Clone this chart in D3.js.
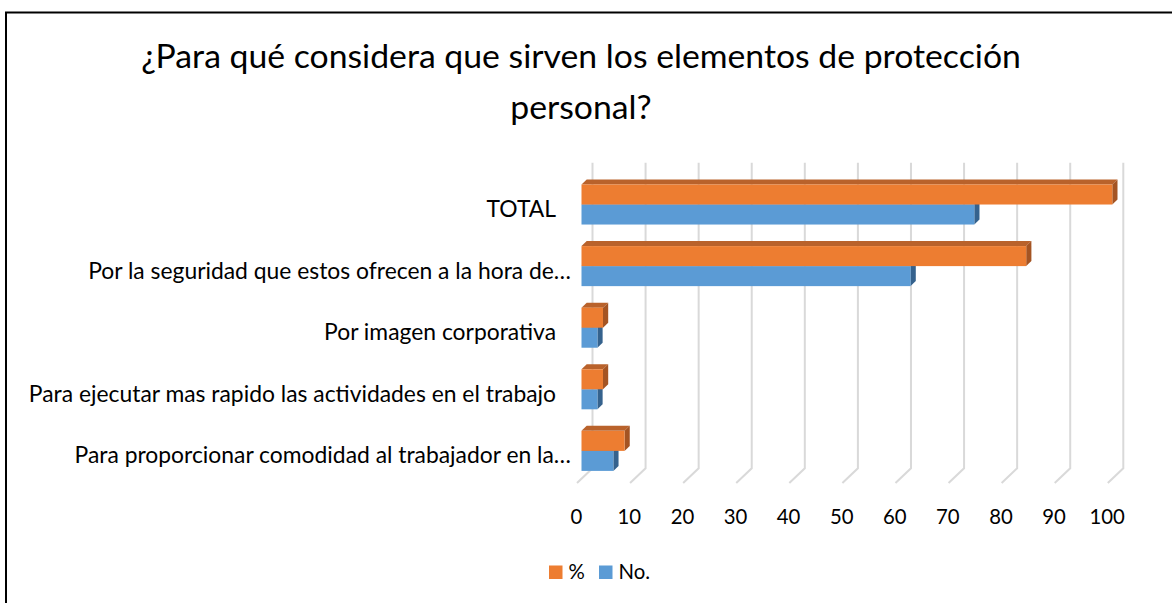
<!DOCTYPE html>
<html><head><meta charset="utf-8">
<script src="https://cdn.jsdelivr.net/npm/d3@7"></script>
<style>
body{margin:0;background:#fff}
svg{display:block}
text{font-family:Lato,"Open Sans",sans-serif;fill:#000}
</style>
</head><body>
<svg id="c" width="1172" height="603"></svg>
<script>
const titleLines = ["¿Para qué considera que sirven los elementos de protección", "personal?"];
const categories = [
  "TOTAL",
  "Por la seguridad que estos ofrecen a la hora de…",
  "Por imagen corporativa",
  "Para ejecutar mas rapido las actividades en el trabajo",
  "Para proporcionar comodidad al trabajador en la…"
];
const seriesNames = ["%", "No."];
const pctValues = [100, 83.78, 4.05, 4.05, 8.11];
const noValues = [74, 62, 3, 3, 6];
const tickValues = [0, 10, 20, 30, 40, 50, 60, 70, 80, 90, 100];

const svg = d3.select("#c");
const W = 1172, H = 603;

function measure(str) {
  const t = svg.append("text").attr("font-size", 100).text(str);
  const w = t.node().getComputedTextLength();
  t.remove();
  return w;
}
function fitSize(str, target) { return 100 * target / measure(str); }

// frame
svg.append("path").attr("d", `M6,${H + 2}V12.5H${W + 2}`).attr("fill", "none")
  .attr("stroke", "#000").attr("stroke-width", 2);

// title
const titleSize = fitSize(titleLines[0], 880);
svg.selectAll("text.title").data(titleLines).join("text").attr("class", "title")
  .attr("x", 581).attr("y", (d, i) => 68 + i * 50.5)
  .attr("text-anchor", "middle").attr("font-size", titleSize).text(d => d);

// scales
const x = d3.scaleLinear().domain([0, 100]).range([581.5, 1112.3]);
const y = d3.scaleBand().domain(categories).range([153.7, 501.7]).paddingInner(0.35).paddingOuter(0.5);
const ys = d3.scaleBand().domain(seriesNames).range([0, y.bandwidth()]);

// 3D geometry
const wallDx = 11, wallTop = 162.7, wallBottom = 468.3, floorDx = -15.5, floorDy = 14.7;
const bdx = 5.2, bdy = -5;

// gridlines (back wall + floor)
svg.append("g").selectAll("path").data(tickValues).join("path")
  .attr("d", v => {
    const gx = x(v) + wallDx;
    return `M${gx},${wallTop}V${wallBottom}L${gx + floorDx},${wallBottom + floorDy}`;
  })
  .attr("fill", "none").attr("stroke", "#d9d9d9").attr("stroke-width", 2);

// bars
const colors = {
  "%": {front: "#ED7D31", top: "#B9622B", side: "#A45423"},
  "No.": {front: "#5B9BD5", top: "#4A80B3", side: "#35628D"}
};
const rows = categories.map((c, i) => ({c, values: {"%": pctValues[i], "No.": noValues[i]}}));
const gBars = svg.append("g");
rows.forEach(r => {
  ["No.", "%"].forEach(s => {
    const v = r.values[s];
    const x0 = x(0), x1 = x(v);
    const y0 = y(r.c) + ys(s), h = ys.bandwidth();
    const col = colors[s];
    const g = gBars.append("g");
    g.append("path").attr("d", `M${x0},${y0}L${x0 + bdx},${y0 + bdy}L${x1 + bdx},${y0 + bdy}L${x1},${y0}Z`)
      .attr("fill", col.top);
    g.append("path").attr("d", `M${x1},${y0}L${x1 + bdx},${y0 + bdy}L${x1 + bdx},${y0 + h + bdy}L${x1},${y0 + h}Z`)
      .attr("fill", col.side);
    g.append("rect").attr("x", x0).attr("y", y0).attr("width", x1 - x0).attr("height", h)
      .attr("fill", col.front);
  });
});

// category labels: one font size fitted to the total width of all labels
const catTotal = categories.reduce((a, c) => a + measure(c), 0);
const catSize = 100 * 1809 / catTotal;
svg.append("g").selectAll("text").data(categories).join("text")
  .attr("x", d => d.endsWith("…") ? 571 : 556)
  .attr("y", d => y(d) + y.bandwidth() / 2 + 4.5)
  .attr("dy", "0.35em").attr("text-anchor", "end").attr("font-size", catSize)
  .text(d => d);

// value axis labels
const tickSize = fitSize("100", 35.4);
svg.append("g").selectAll("text").data(tickValues).join("text")
  .attr("x", v => x(v) - 5.2).attr("y", 516.5).attr("dy", "0.35em")
  .attr("text-anchor", "middle").attr("font-size", tickSize).text(v => v);

// legend
const legX = [549, 599];
const lg = svg.append("g").selectAll("g").data(seriesNames).join("g")
  .attr("transform", (d, i) => `translate(${legX[i]},565.5)`);
lg.append("rect").attr("width", 13.5).attr("height", 13.5).attr("fill", d => colors[d].front);
lg.append("text").attr("x", 19.5).attr("y", 6.5).attr("dy", "0.35em")
  .attr("font-size", tickSize).text(d => d);
</script>
</body></html>
